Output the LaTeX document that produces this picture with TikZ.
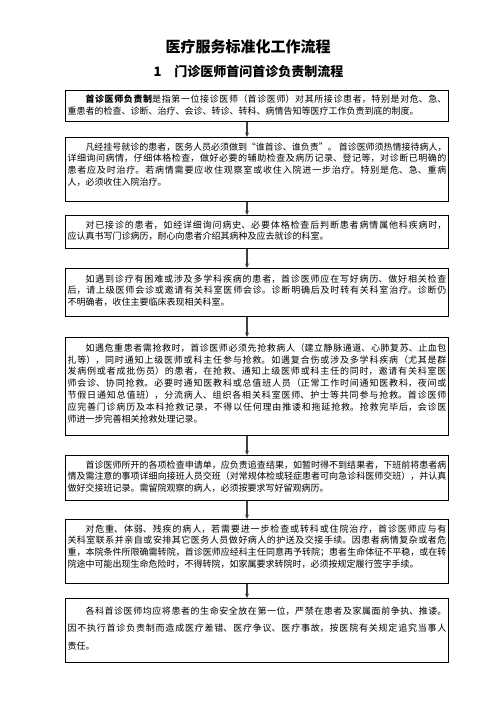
\documentclass[tikz,border=0pt]{standalone}
\usepackage{fontspec}
\newfontfamily\cjk{Noto Sans CJK SC}
\usetikzlibrary{arrows.meta}
\XeTeXlinebreaklocale "zh"
\XeTeXlinebreakskip=0pt plus 1pt minus 0.4pt
\newcommand\bxt[3]{\parbox[c][#1pt][t]{379pt}{\vspace*{#2pt}#3}}
\begin{document}
\begin{tikzpicture}[x=1pt,y=-1pt,
  box/.style={draw, line width=1pt, inner xsep=2pt, inner ysep=0pt, anchor=north west,
    font=\cjk\fontsize{9.0}{11.8}\selectfont},
  boxloose/.style={box, font=\cjk\fontsize{9.0}{17.5}\selectfont},
  arr/.style={line width=1.1pt, draw=black!75, -{Stealth[length=4.5pt,width=4pt]}},
  ttl/.style={inner sep=0pt, font=\cjk\bfseries\fontsize{15}{18}\selectfont},
  sub/.style={inner sep=0pt, font=\cjk\bfseries\fontsize{13}{16}\selectfont}]
\useasboundingbox (0,0) rectangle (496,702);
\fill[white] (0,0) rectangle (496,702);

\node[ttl] (t1) at (248,47) {医疗服务标准化工作流程};
\node[sub] (t2) at (248.5,72) {1\hspace{1em}门诊医师首问首诊负责制流程};

\node[box] (b1) at (65,90) {\bxt{31}{4}{\hspace*{2em}{\bfseries 首诊医师负责制}是指第一位接诊医师（首诊医师）对其所接诊患者，特别是对危、急、\linebreak 重患者的检查、诊断、治疗、会诊、转诊、转科、病情告知等医疗工作负责到底的制度。}};

\node[box] (b2) at (65,137) {\bxt{64}{5}{\hspace*{2em}凡经挂号就诊的患者，医务人员必须做到“谁首诊、谁负责”。\hspace{2pt}首诊医师须热情接待病人，\linebreak 详细询问病情，仔细体格检查，做好必要的辅助检查及病历记录、登记等，对诊断已明确的\linebreak 患者应及时治疗。若病情需要应收住观察室或收住入院进一步治疗。特别是危、急、重病\linebreak 人，必须收住入院治疗。}};

\node[box] (b3) at (65,215) {\bxt{33}{5}{\hspace*{2em}对已接诊的患者，如经详细询问病史、必要体格检查后判断患者病情属他科疾病时，\linebreak 应认真书写门诊病历，耐心向患者介绍其病种及应去就诊的科室。}};

\node[box] (b4) at (65,268) {\bxt{48}{6}{\hspace*{2em}如遇到诊疗有困难或涉及多学科疾病的患者，首诊医师应在写好病历、做好相关检查\linebreak 后，请上级医师会诊或邀请有关科室医师会诊。诊断明确后及时转有关科室治疗。诊断仍\linebreak 不明确者，收住主要临床表现相关科室。}};

\node[box] (b5) at (65,337) {\bxt{98}{6}{\hspace*{2em}如遇危重患者需抢救时，首诊医师必须先抢救病人（建立静脉通道、心肺复苏、止血包\linebreak 扎等），同时通知上级医师或科主任参与抢救。如遇复合伤或涉及多学科疾病（尤其是群\linebreak 发病例或者成批伤员）的患者，在抢救、通知上级医师或科主任的同时，邀请有关科室医\linebreak 师会诊、协同抢救。必要时通知医教科或总值班人员（正常工作时间通知医教科，夜间或\linebreak 节假日通知总值班），分流病人、组织各相关科室医师、护士等共同参与抢救。首诊医师\linebreak 应完善门诊病历及本科抢救记录，不得以任何理由推诿和拖延抢救。抢救完毕后，会诊医\linebreak 师进一步完善相关抢救处理记录。}};

\node[box] (b6) at (65,455) {\bxt{45}{5}{\hspace*{2em}首诊医师所开的各项检查申请单，应负责追查结果，如暂时得不到结果者，下班前将患者病\linebreak 情及需注意的事项详细向接班人员交班（对常规体检或轻症患者可向急诊科医师交班），并认真\linebreak 做好交接班记录。需留院观察的病人，必须按要求写好留观病历。}};

\node[box] (b7) at (65,519) {\bxt{64}{5}{\hspace*{2em}对危重、体弱、残疾的病人，若需要进一步检查或转科或住院治疗，首诊医师应与有\linebreak 关科室联系并亲自或安排其它医务人员做好病人的护送及交接手续。因患者病情复杂或者危\linebreak 重，本院条件所限确需转院，首诊医师应经科主任同意再予转院；患者生命体征不平稳，或在转\linebreak 院途中可能出现生命危险时，不得转院，如家属要求转院时，必须按规定履行签字手续。}};

\node[boxloose] (b8) at (65,598) {\bxt{64}{8}{\hspace*{2em}各科首诊医师均应将患者的生命安全放在第一位，严禁在患者及家属面前争执、推诿。\linebreak 因不执行首诊负责制而造成医疗差错、医疗争议、医疗事故，按医院有关规定追究当事人\linebreak 责任。}};

\coordinate (ax) at (247,0);
\draw[arr] (b1.south -| ax) -- (b2.north -| ax);
\draw[arr] (b2.south -| ax) -- (b3.north -| ax);
\draw[arr] (b3.south -| ax) -- (b4.north -| ax);
\draw[arr] (b4.south -| ax) -- (b5.north -| ax);
\draw[arr] (b5.south -| ax) -- (b6.north -| ax);
\draw[arr] (b6.south -| ax) -- (b7.north -| ax);
\draw[arr] (b7.south -| ax) -- (b8.north -| ax);
\end{tikzpicture}
\end{document}
